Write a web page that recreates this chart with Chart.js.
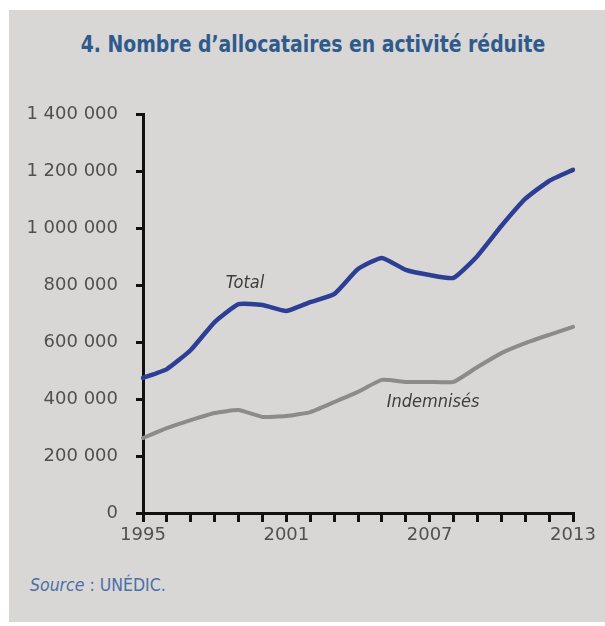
<!DOCTYPE html>
<html><head><meta charset="utf-8">
<script src="https://cdn.jsdelivr.net/npm/chart.js@4"></script>
<style>
html,body{margin:0;padding:0;background:#fff;}
#wrap{position:relative;width:605px;height:626px;overflow:hidden;}
#panel{position:absolute;left:9px;top:10px;width:596px;height:612px;background:#d9d7d6;}
#title{position:absolute;left:0;top:30px;width:626px;text-align:center;font:bold 23px "Liberation Sans Narrow","DejaVu Sans Condensed",sans-serif;line-height:28px;color:#2f5b8c;white-space:nowrap;transform:scaleX(0.91);transform-origin:313px 50%;}
#source{position:absolute;left:30px;top:575px;font:17.5px "Liberation Sans Narrow","DejaVu Sans Condensed",sans-serif;line-height:20px;color:#4b6fa6;white-space:nowrap;}
canvas{position:absolute;left:0;top:0;}
</style></head>
<body>
<div id="wrap">
<div id="panel"></div>
<div id="title">4. Nombre d’allocataires en activité réduite</div>
<div id="source"><i>Source</i> : UNÉDIC.</div>
<canvas id="c" width="605" height="626"></canvas>
</div>
<script>
const years = [1995,1996,1997,1998,1999,2000,2001,2002,2003,2004,2005,2006,2007,2008,2009,2010,2011,2012,2013];
const totalValues = [474000,505000,572000,670000,733000,730000,709000,740000,768000,856000,895000,853000,835000,825000,902000,1007000,1102000,1165000,1204000];
const indemnisesValues = [263000,298000,326000,351000,361000,337000,340000,354000,389000,425000,467000,460000,460000,460000,512000,561000,596000,625000,653000];
const yTickValues = [0,200000,400000,600000,800000,1000000,1200000,1400000];
const xLabelYears = [1995,2001,2007,2013];
const seriesNames = ['Total','Indemnisés'];

function fmt(n){return n.toString().replace(/\B(?=(\d{3})+(?!\d))/g,' ');}

const labelPlugin = {
  id:'seriesLabels',
  afterDatasetsDraw(chart){
    const ctx = chart.ctx, xs = chart.scales.x, ys = chart.scales.y;
    const x0 = xs.getPixelForValue(0), x1 = xs.getPixelForValue(years.length-1);
    const px = yr => x0 + (x1-x0)*(yr-years[0])/(years[years.length-1]-years[0]);
    ctx.save();
    ctx.fillStyle = '#3d3d3d';
    ctx.font = 'italic 18px "Liberation Sans Narrow","DejaVu Sans Condensed",sans-serif';
    ctx.textAlign = 'center';
    ctx.textBaseline = 'middle';
    ctx.fillText(seriesNames[0], px(1999.27), ys.getPixelForValue(807000));
    ctx.fillText(seriesNames[1], px(2007.14), ys.getPixelForValue(389000));
    ctx.restore();
  }
};

new Chart(document.getElementById('c'), {
  type:'line',
  data:{
    labels: years.map(String),
    datasets:[
      {label:seriesNames[1], data:indemnisesValues, borderColor:'#8b8b8b', borderWidth:4, pointRadius:0, tension:0.15, borderJoinStyle:'round', borderCapStyle:'round'},
      {label:seriesNames[0], data:totalValues, borderColor:'#2c3f95', borderWidth:4.5, pointRadius:0, tension:0.15, borderJoinStyle:'round', borderCapStyle:'round'}
    ]
  },
  options:{
    responsive:false, animation:false, devicePixelRatio:1,
    layout:{padding:{left:0,top:114,right:32,bottom:0}},
    plugins:{legend:{display:false}, tooltip:{enabled:false}, title:{display:false}},
    scales:{
      x:{
        type:'category', offset:false,
        grid:{drawOnChartArea:false, drawTicks:true, tickLength:9, color:'#111', lineWidth:3},
        border:{display:true, color:'#111', width:3},
        ticks:{autoSkip:false, maxRotation:0, minRotation:0, padding:3, color:'#505050',
          font:{family:'"DejaVu Sans"', size:18},
          callback:(v,i)=> xLabelYears.includes(years[i]) ? String(years[i]) : ''},
        afterFit:s=>{s.height = 113;}
      },
      y:{
        min:0, max:1400000,
        afterBuildTicks:s=>{s.ticks = yTickValues.map(v=>({value:v}));},
        grid:{drawOnChartArea:false, drawTicks:true, tickLength:7, color:'#111', lineWidth:3},
        border:{display:true, color:'#111', width:3},
        ticks:{padding:18, color:'#505050', font:{family:'"DejaVu Sans"', size:18}, callback:v=>fmt(v)},
        afterFit:s=>{s.width = 143;}
      }
    }
  },
  plugins:[labelPlugin]
});
</script>
</body></html>
